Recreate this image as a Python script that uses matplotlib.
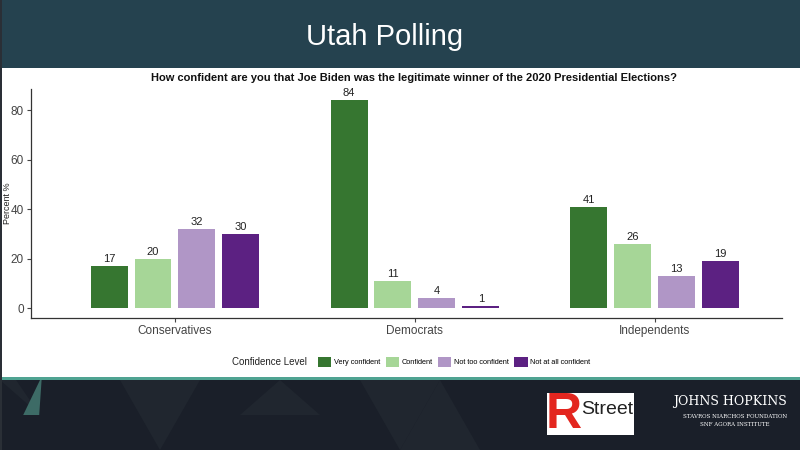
import numpy as np
import matplotlib.pyplot as plt
from matplotlib.patches import Rectangle, Polygon

plt.rcParams['font.family'] = ['Liberation Sans', 'DejaVu Sans']

# Datos de la encuesta
grupos = ['Conservatives', 'Democrats', 'Independents']
niveles = ['Very confident', 'Confident', 'Not too confident', 'Not at all confident']
valores = {
    'Very confident': [17, 84, 41],
    'Confident': [20, 11, 26],
    'Not too confident': [32, 4, 13],
    'Not at all confident': [30, 1, 19],
}
colores = ['#367630', '#a6d697', '#b096c6', '#5c2182']

fig = plt.figure(figsize=(8, 4.5), dpi=100)
fig.patch.set_facecolor('white')

# Cabecera
fig.patches.append(Rectangle((0, 1 - 68 / 450), 1, 68 / 450, transform=fig.transFigure,
                             facecolor='#25424f', edgecolor='none', zorder=0))
fig.text(0.481, 1 - 37 / 450, 'Utah Polling', color='white', fontsize=21,
         family=['Liberation Sans Narrow', 'Liberation Sans'], ha='center', va='center')

# Borde izquierdo
fig.patches.append(Rectangle((0, 0), 2 / 800, 1, transform=fig.transFigure,
                             facecolor='#2a2f36', edgecolor='none', zorder=3))

# Pie de página
fig.patches.append(Rectangle((0, 0), 1, 72 / 450, transform=fig.transFigure,
                             facecolor='#1a1f29', edgecolor='none', zorder=0))
fig.patches.append(Rectangle((0, 70 / 450), 1, 3 / 450, transform=fig.transFigure,
                             facecolor='#4fa392', edgecolor='none', zorder=1))
tri = [
    [(0.0, 70), (0.02, 70), (0.05, 35)],
    [(0.15, 70), (0.25, 70), (0.2, 0)],
    [(0.45, 70), (0.55, 70), (0.5, 0)],
    [(0.55, 70), (0.6, 0), (0.5, 0)],
    [(0.3, 35), (0.35, 70), (0.4, 35)],
    [(0.5, 0), (0.55, 35), (0.6, 0)],
]
for t in tri:
    fig.patches.append(Polygon([(x, y / 450) for x, y in t], closed=True, transform=fig.transFigure,
                               facecolor='#20262f', edgecolor='none', zorder=1))
fig.patches.append(Polygon([(0.05, 70 / 450), (0.029, 35 / 450), (0.049, 35 / 450), (0.052, 70 / 450)],
                           closed=True, transform=fig.transFigure,
                           facecolor='#3d6b66', edgecolor='none', zorder=2))

# Logos (texto)
fig.patches.append(Rectangle((547 / 800, 15 / 450), 87 / 800, 42 / 450, transform=fig.transFigure,
                             facecolor='white', edgecolor='none', zorder=2))
fig.text(546 / 800, 35 / 450, 'R', color='#e3261f', fontsize=36, fontweight='bold',
         ha='left', va='center', zorder=3)
fig.text(633 / 800, 41 / 450, 'Street', color='#222222', fontsize=14,
         ha='right', va='center', zorder=4)
fig.text(730 / 800, 48 / 450, 'JOHNS HOPKINS', color='white', fontsize=9,
         family='DejaVu Serif', ha='center', va='center')
fig.text(735 / 800, 33 / 450, 'STAVROS NIARCHOS FOUNDATION', color='white', fontsize=4,
         family='DejaVu Serif', ha='center', va='center')
fig.text(735 / 800, 26 / 450, 'SNF AGORA INSTITUTE', color='white', fontsize=4,
         family='DejaVu Serif', ha='center', va='center')

# Gráfico de barras
ax = fig.add_axes([31 / 800, 132 / 450, 751 / 800, 229 / 450])
x = np.arange(len(grupos))
paso = 0.183
ancho = 0.154
for i, (nivel, color) in enumerate(zip(niveles, colores)):
    pos = x + (i - 1.5) * paso
    ax.bar(pos, valores[nivel], width=ancho, color=color, label=nivel)
    for xb, v in zip(pos, valores[nivel]):
        ax.text(xb, v + 0.8, str(v), ha='center', va='bottom', fontsize=8, color='#222222')

ax.set_xlim(-0.6, 2.53)
ax.set_ylim(-4, 88.5)
ax.set_yticks([0, 20, 40, 60, 80])
ax.set_xticks(x)
ax.set_xticklabels(grupos)
ax.tick_params(axis='both', labelsize=8.5, colors='#444444', length=3, labelcolor='#444444', pad=2)
ax.set_ylabel('Percent %', fontsize=6.5, color='#222222')
ax.yaxis.set_label_coords(-19 / 751, 0.5)
for s in ['top', 'right']:
    ax.spines[s].set_visible(False)
for s in ['left', 'bottom']:
    ax.spines[s].set_color('#333333')
    ax.spines[s].set_linewidth(0.9)

ax.set_title('How confident are you that Joe Biden was the legitimate winner of the 2020 Presidential Elections?',
             fontsize=8, fontweight='bold', color='#111111', pad=6, x=0.51)

# Leyenda con el título a la izquierda
fig.text(307 / 800, 1 - 362 / 450, 'Confidence Level', fontsize=7, color='#222222',
         ha='right', va='center')
fig.legend(loc='center left', bbox_to_anchor=(318 / 800, 1 - 362 / 450), ncol=4, frameon=False,
           fontsize=5.3, handlelength=1.8, handleheight=1.8,
           columnspacing=0.7, handletextpad=0.4, borderpad=0, borderaxespad=0)

fig.savefig('out.png', dpi=100)
